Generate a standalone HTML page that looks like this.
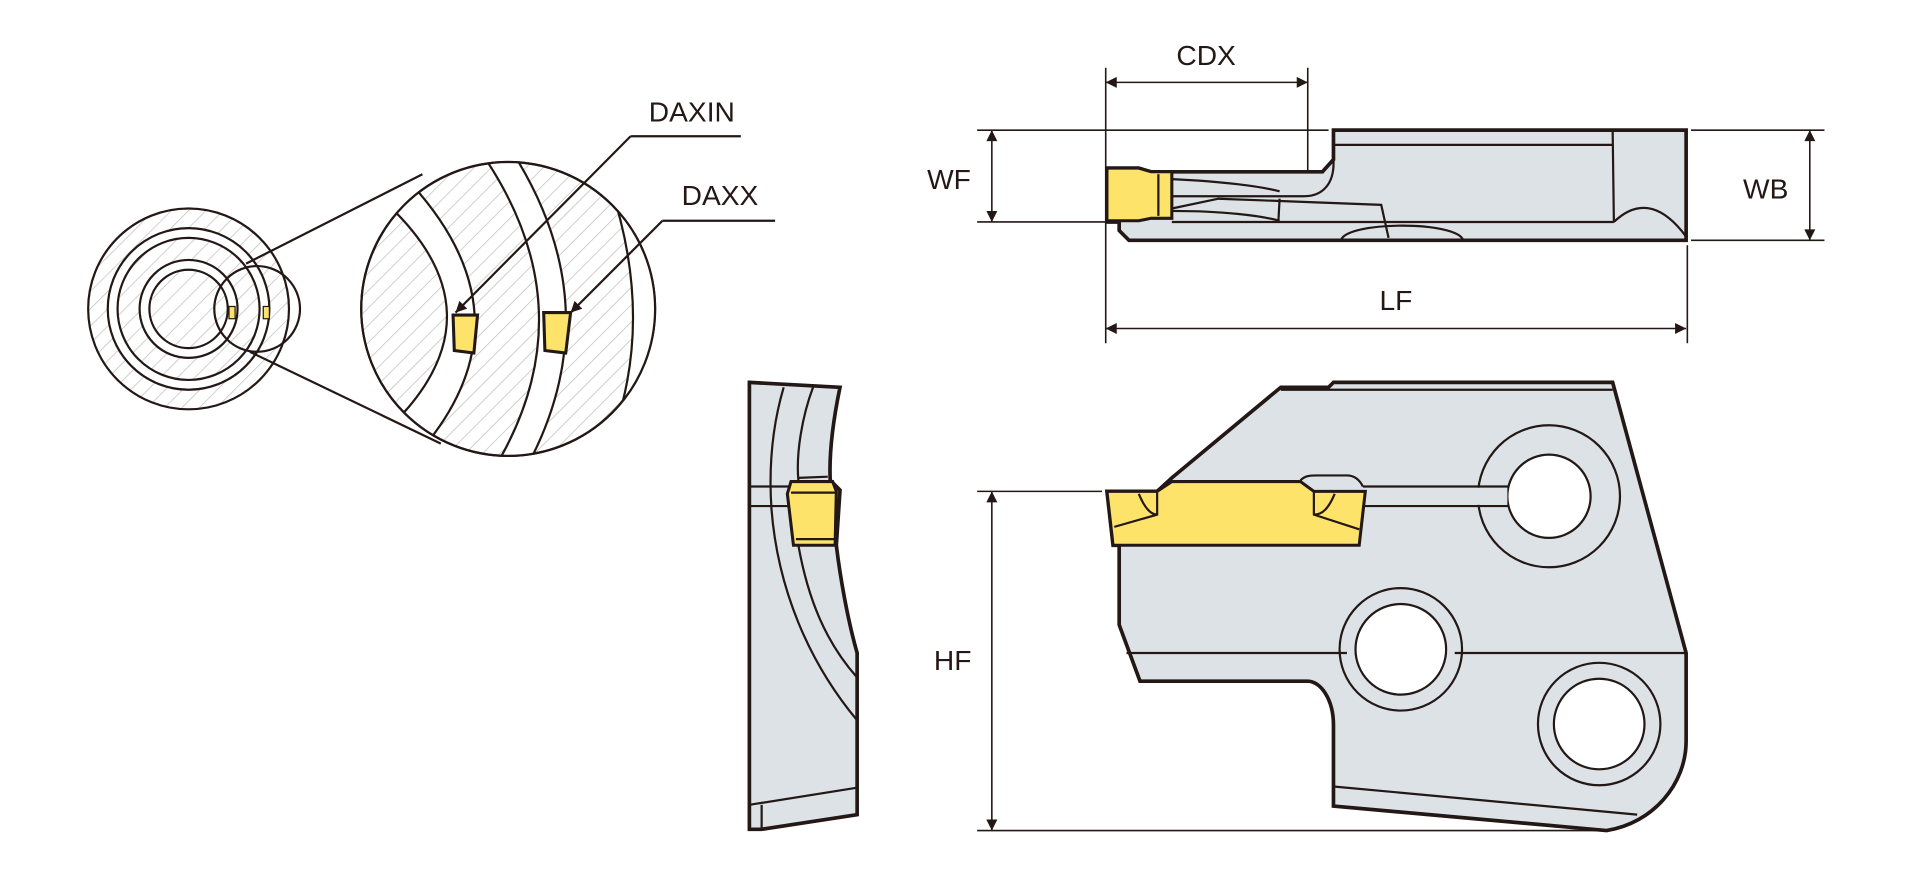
<!DOCTYPE html>
<html><head><meta charset="utf-8"><style>
html,body{margin:0;padding:0;background:#fff;}
svg{display:block}
text{font-family:"Liberation Sans",sans-serif;font-size:23px;fill:#231815;}
</style></head><body>
<svg width="1920" height="886" viewBox="0 0 1568 723" xmlns="http://www.w3.org/2000/svg">
<defs>
<pattern id="h" width="10" height="10" patternUnits="userSpaceOnUse" patternTransform="rotate(45)">
<rect width="10" height="10" fill="#fff"/><line x1="0" y1="0" x2="0" y2="10" stroke="#c0c0c0" stroke-width="1.2"/></pattern>
<marker id="a" viewBox="0 0 10 10" refX="10" refY="5" markerWidth="22" markerHeight="9" markerUnits="userSpaceOnUse" orient="auto-start-reverse"><path d="M0,0L10,5L0,10z" fill="#231815"/></marker>
<clipPath id="bc"><circle cx="415" cy="252" r="120"/></clipPath>
</defs>
<g stroke="#231815" fill="none" stroke-width="1.8">
<circle cx="154" cy="252" r="82" fill="url(#h)"/>
<circle cx="154" cy="252" r="66" fill="#fff"/>
<circle cx="154" cy="252" r="58" fill="url(#h)"/>
<circle cx="154" cy="252" r="40" fill="#fff"/>
<circle cx="154" cy="252" r="32" fill="url(#h)"/>
<circle cx="210" cy="252" r="35"/>
<rect x="187" y="250" width="5" height="10" fill="#fde36a" stroke-width="1"/>
<rect x="215" y="250" width="5" height="10" fill="#fde36a" stroke-width="1"/>
<line x1="201" y1="215" x2="345" y2="142"/>
<line x1="204" y1="287" x2="360" y2="362"/>
<circle cx="415" cy="252" r="120" fill="url(#h)"/>
<g clip-path="url(#bc)">
<path d="M318,168 Q410,256 322,345 L350,360 Q432,256 336,150 Z" fill="#fff" stroke="none"/>
<path d="M390,120 Q484,252 402,385 L428,385 Q502,252 416,120 Z" fill="#fff" stroke="none"/>
<path d="M498,150 Q530,245 508,330 L560,330 L560,150 Z" fill="#fff" stroke="none"/>
<path d="M318,168 Q410,256 322,345"/>
<path d="M336,150 Q432,256 350,360"/>
<path d="M390,120 Q484,252 402,385"/>
<path d="M416,120 Q502,252 428,385"/>
<path d="M498,150 Q530,245 508,330"/>
</g>
<circle cx="415" cy="252" r="120"/>
<path d="M370,257 L390,257 L387,288 L371,286 Z" fill="#fde36a" stroke-width="2.5"/>
<path d="M444,255 L466,255 L462,288 L445,286 Z" fill="#fde36a" stroke-width="2.5"/>
<line x1="515" y1="111" x2="605" y2="111"/>
<line x1="515" y1="111" x2="372" y2="255" marker-end="url(#a)"/>
<line x1="541" y1="180" x2="633" y2="180"/>
<line x1="541" y1="180" x2="466" y2="255" marker-end="url(#a)"/>

<path d="M1089,106 L1377,106 L1377,196 L922,196 L914,188 L914,181 L904,181 L904,137 L930,137 L940,140 L1080,140 L1089,130 Z" fill="#dde2e6" stroke-width="3"/>
<line x1="1089" y1="118" x2="1317" y2="118"/>
<line x1="1317" y1="106" x2="1318" y2="181"/>
<line x1="957" y1="181" x2="1318" y2="181"/>
<path d="M1318,181 C1340,160 1360,170 1377,193"/>
<path d="M1095,196 C1100,180 1190,180 1195,196"/>
<path d="M957,170 L995,162 L1128,167 L1134,194"/>
<path d="M1045,162 L1044,181"/>
<path d="M1089,130 C1090,150 1080,160 1065,160 L957,160"/>
<path d="M904,137 L930,137 L940,140 L957,140 L957,178 L940,178 L930,180 L904,180 Z" fill="#fde36a" stroke-width="2.5"/>
<line x1="946" y1="142" x2="946" y2="176"/>
<path d="M957,146 C1000,148 1030,152 1045,156 M957,172 C1000,172 1030,176 1045,180"/>
<path d="M1089,312 L1317,312 L1377,533 L1377,605 C1377,640 1350,672 1312,678 L1089,658 L1089,592 C1089,570 1078,556 1068,556 L931,556 L914,510 L914,445 L909,445 L904,401 L945,401 L957,390 L1046,316 L1085,316 Z" fill="#dde2e6" stroke-width="3"/>
<line x1="1046" y1="318" x2="1317" y2="318"/>
<line x1="1089" y1="642" x2="1337" y2="665"/>
<line x1="920" y1="533" x2="1100" y2="533"/><line x1="1188" y1="533" x2="1377" y2="533"/>
<circle cx="1265" cy="405" r="58" fill="#dde2e6"/>
<circle cx="1265" cy="405" r="34" fill="#fff"/>
<circle cx="1144" cy="530" r="50"/>
<circle cx="1144" cy="530" r="37" fill="#fff"/>
<circle cx="1306" cy="591" r="50"/>
<circle cx="1306" cy="591" r="37" fill="#fff"/>
<rect x="1113" y="398" width="118" height="14" fill="#dde2e6" stroke="none"/>
<path d="M1113,397 L1232,397 M1113,413 L1232,413"/>
<path d="M1062,392 C1066,388 1070,388 1076,388 L1100,388 C1106,388 1110,391 1113,397"/>
<path d="M904,401 L945,401 L957,393 L1062,393 L1073,401 L1115,401 L1110,445 L909,445 Z" fill="#fde36a" stroke-width="2.5"/>
<path d="M945,401 L945,420 L910,430 M930,403 C935,415 940,420 945,420"/>
<path d="M1073,401 L1073,420 L1110,432 M1090,403 C1085,415 1080,420 1073,420"/>
<path d="M612,312 L686,316 C680,345 677,370 678,392 L686,400 L683,445 C686,470 692,505 700,533 L700,665 L622,677 L612,677 Z" fill="#dde2e6" stroke-width="3"/>
<path d="M622,657 L622,677"/>
<path d="M640,316 C630,350 628,385 630,415 C635,480 660,540 700,588"/>
<path d="M664,316 C655,340 650,370 652,392 M652,445 C660,490 675,525 700,553"/>
<path d="M612,397 L645,397 M612,413 L645,413"/>
<line x1="612" y1="657" x2="700" y2="643"/>
<path d="M646,393 L680,393 L683,401 L682,445 L648,445 L643,403 Z" fill="#fde36a" stroke-width="2.5"/>
<line x1="646" y1="402" x2="683" y2="402"/><line x1="650" y1="440" x2="682" y2="440"/>
<line x1="652" y1="390" x2="676" y2="389"/>
<g stroke-width="1.3">
<line x1="903" y1="55" x2="903" y2="280"/>
<line x1="1068" y1="55" x2="1068" y2="140"/>
<line x1="903" y1="67" x2="1068" y2="67" marker-start="url(#a)" marker-end="url(#a)"/>
<line x1="798" y1="106" x2="1085" y2="106"/>
<line x1="798" y1="181" x2="903" y2="181"/>
<line x1="810" y1="106" x2="810" y2="181" marker-start="url(#a)" marker-end="url(#a)"/>
<line x1="1381" y1="106" x2="1490" y2="106"/>
<line x1="1381" y1="196" x2="1490" y2="196"/>
<line x1="1478" y1="106" x2="1478" y2="196" marker-start="url(#a)" marker-end="url(#a)"/>
<line x1="1378" y1="200" x2="1378" y2="280"/>
<line x1="903" y1="268" x2="1377" y2="268" marker-start="url(#a)" marker-end="url(#a)"/>
<line x1="798" y1="401" x2="900" y2="401"/>
<line x1="798" y1="678" x2="1310" y2="678"/>
<line x1="810" y1="401" x2="810" y2="678" marker-start="url(#a)" marker-end="url(#a)"/>
</g>
</g>
<text x="985" y="53" text-anchor="middle">CDX</text>
<text x="775" y="154" text-anchor="middle">WF</text>
<text x="1442" y="162" text-anchor="middle">WB</text>
<text x="1140" y="253" text-anchor="middle">LF</text>
<text x="778" y="547" text-anchor="middle">HF</text>
<text x="565" y="99" text-anchor="middle">DAXIN</text>
<text x="588" y="167" text-anchor="middle">DAXX</text>
</svg>
</body></html>
